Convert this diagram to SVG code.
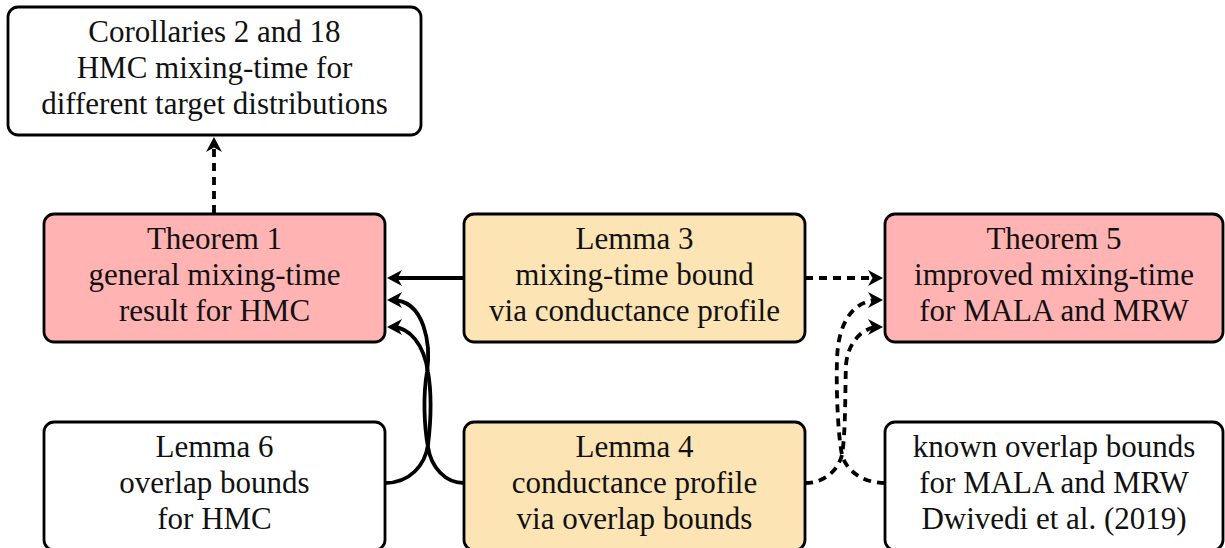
<svg xmlns="http://www.w3.org/2000/svg" width="1225" height="548" viewBox="0 0 1225 548">
<style>
text{font-family:'Liberation Serif','Times New Roman',serif !important;font-size:31px;text-anchor:middle;fill:#111;}
.box{stroke:#000;stroke-width:2.8;}
.white{fill:#fff;}
.red{fill:#FFB3B3;}
.tan{fill:#FDE4B4;}
.c{fill:none;stroke:#000;stroke-width:3.8;}
.d{stroke-dasharray:8 6;}
</style>
<defs>
<marker id="ah" markerUnits="userSpaceOnUse" viewBox="-12 -9 18 18" refX="0" refY="0" markerWidth="18" markerHeight="18" orient="auto">
<path d="M5,0 L-10,-8 L-5.5,0 L-10,8 Z" fill="#000"/>
</marker>
</defs>
<rect width="1225" height="548" fill="#fff"/>
<g id="corollaries">
<rect class="box white" x="8" y="7" width="413" height="128" rx="10"/>
<text x="214.5" y="42" style="font-family:'Liberation Serif',serif !important">Corollaries 2 and 18</text>
<text x="214.5" y="78" style="font-family:'Liberation Serif',serif !important">HMC mixing-time for</text>
<text x="214.5" y="114" style="font-family:'Liberation Serif',serif !important">different target distributions</text>
</g>
<g id="theorem1">
<rect class="box red" x="44" y="214" width="341" height="128" rx="10"/>
<text x="214.5" y="249" style="font-family:'Liberation Serif',serif !important">Theorem 1</text>
<text x="214.5" y="285" style="font-family:'Liberation Serif',serif !important">general mixing-time</text>
<text x="214.5" y="321" style="font-family:'Liberation Serif',serif !important">result for HMC</text>
</g>
<g id="lemma3">
<rect class="box tan" x="464" y="214" width="341" height="128" rx="10"/>
<text x="634.5" y="249" style="font-family:'Liberation Serif',serif !important">Lemma 3</text>
<text x="634.5" y="285" style="font-family:'Liberation Serif',serif !important">mixing-time bound</text>
<text x="634.5" y="321" style="font-family:'Liberation Serif',serif !important">via conductance profile</text>
</g>
<g id="theorem5">
<rect class="box red" x="885" y="214" width="338" height="128" rx="10"/>
<text x="1054" y="249" style="font-family:'Liberation Serif',serif !important">Theorem 5</text>
<text x="1054" y="285" style="font-family:'Liberation Serif',serif !important">improved mixing-time</text>
<text x="1054" y="321" style="font-family:'Liberation Serif',serif !important">for MALA and MRW</text>
</g>
<g id="lemma6">
<rect class="box white" x="44" y="422" width="341" height="128" rx="10"/>
<text x="214.5" y="457" style="font-family:'Liberation Serif',serif !important">Lemma 6</text>
<text x="214.5" y="493" style="font-family:'Liberation Serif',serif !important">overlap bounds</text>
<text x="214.5" y="529" style="font-family:'Liberation Serif',serif !important">for HMC</text>
</g>
<g id="lemma4">
<rect class="box tan" x="464" y="422" width="341" height="128" rx="10"/>
<text x="634.5" y="457" style="font-family:'Liberation Serif',serif !important">Lemma 4</text>
<text x="634.5" y="493" style="font-family:'Liberation Serif',serif !important">conductance profile</text>
<text x="634.5" y="529" style="font-family:'Liberation Serif',serif !important">via overlap bounds</text>
</g>
<g id="known">
<rect class="box white" x="885" y="422" width="338" height="128" rx="10"/>
<text x="1054" y="457" style="font-family:'Liberation Serif',serif !important">known overlap bounds</text>
<text x="1054" y="493" style="font-family:'Liberation Serif',serif !important">for MALA and MRW</text>
<text x="1054" y="529" style="font-family:'Liberation Serif',serif !important">Dwivedi et al. (2019)</text>
</g>
<g id="connectors">
<path class="c d" d="M214,213 L214,142" marker-end="url(#ah)"/>
<path class="c" d="M464,278 L392,278" marker-end="url(#ah)"/>
<path class="c d" d="M805,278 L878,278" marker-end="url(#ah)"/>
<path class="c" d="M385,483 C410,483 425,465 428,445 C431,420 432,395 428,372 C424,345 410,327 392,327" marker-end="url(#ah)"/>
<path class="c" d="M464,483 C445,483 431,467 428,447 C424,425 423,395 427,372 C431,345 425,300 392,300" marker-end="url(#ah)"/>
<path class="c d" d="M805,483 C825,483 838,470 842,455 C846,430 845,385 846,365 C848,340 865,327 878,327" marker-end="url(#ah)"/>
<path class="c d" d="M885,483 C862,483 846,470 842,455 C838,435 836,390 837,360 C838,320 855,300 878,300" marker-end="url(#ah)"/>
</g>
</svg>
